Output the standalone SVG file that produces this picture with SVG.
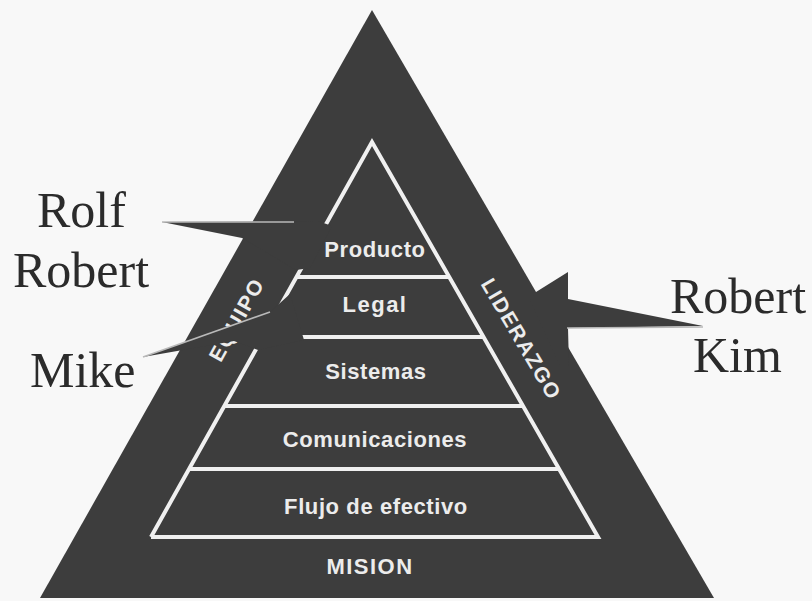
<svg xmlns="http://www.w3.org/2000/svg" width="812" height="601" viewBox="0 0 812 601">
<defs>
<style>
.dark{fill:#3d3d3d}
.wl{stroke:#f0f0f0;stroke-width:4;fill:none;stroke-linecap:butt}
.lvl{font-family:"Liberation Sans",Arial,sans-serif;font-weight:bold;font-size:22px;fill:#ececec;text-anchor:middle;letter-spacing:0.6px}
.side{font-family:"Liberation Sans",Arial,sans-serif;font-weight:bold;font-size:21px;fill:#ececec;text-anchor:middle}
.name{font-family:"Liberation Serif","Times New Roman",serif;font-size:50px;fill:#2b2b2b}
.edge{stroke:#b9b9b9;stroke-width:1.6;fill:none}
</style>
</defs>
<rect width="812" height="601" fill="#f8f8f8"/>
<g id="pyramid">
<polygon class="dark" points="372,10 714,598 40,598"/>
</g>
<g id="inner-pyramid">
<polyline class="wl" points="151,537 372,142 598,537 151,537" stroke-linejoin="miter"/>
<line class="wl" x1="296" y1="277" x2="449" y2="277"/>
<line class="wl" x1="263" y1="337" x2="484" y2="337"/>
<line class="wl" x1="224" y1="406" x2="523" y2="406"/>
<line class="wl" x1="189" y1="469" x2="559" y2="469"/>
</g>
<g id="level-producto"><text class="lvl" x="375" y="257">Producto</text></g>
<g id="level-legal"><text class="lvl" x="375" y="312" style="letter-spacing:1.5px">Legal</text></g>
<g id="level-sistemas"><text class="lvl" x="376" y="379">Sistemas</text></g>
<g id="level-comunicaciones"><text class="lvl" x="375" y="447">Comunicaciones</text></g>
<g id="level-flujo"><text class="lvl" x="376" y="514">Flujo de efectivo</text></g>
<g id="level-mision"><text class="lvl" x="370" y="574" style="letter-spacing:1.5px">MISION</text></g>
<g id="side-equipo"><text class="side" transform="translate(236.5,319.5) rotate(-61)" x="0" y="7.5" style="letter-spacing:1.7px">EQUIPO</text></g>
<g id="side-liderazgo"><text class="side" transform="translate(521.5,339) rotate(59.5)" x="0" y="7.5" style="letter-spacing:1.5px">LIDERAZGO</text></g>
<g id="connectors">
<polygon class="dark" points="162,222 318,221 332,226 310,268 296,270 242,238"/>
<line class="edge" x1="162" y1="222" x2="294" y2="222"/>
<polygon class="dark" points="143,357 270,312 290,294 304,340 258,350 234,341"/>
<line class="edge" x1="143" y1="357" x2="270" y2="312"/>
<polygon class="dark" points="536,292 568,272 568,299 703,326 568,328 569,366 580,366 560,366 530,300"/>
<line class="edge" x1="703" y1="327" x2="567" y2="328"/>
</g>
<g id="names-equipo">
<text class="name" x="37" y="227">Rolf</text>
<text class="name" x="13" y="287">Robert</text>
<text class="name" x="30" y="387">Mike</text>
</g>
<g id="names-liderazgo">
<text class="name" x="670" y="313">Robert</text>
<text class="name" x="693" y="372">Kim</text>
</g>
</svg>
